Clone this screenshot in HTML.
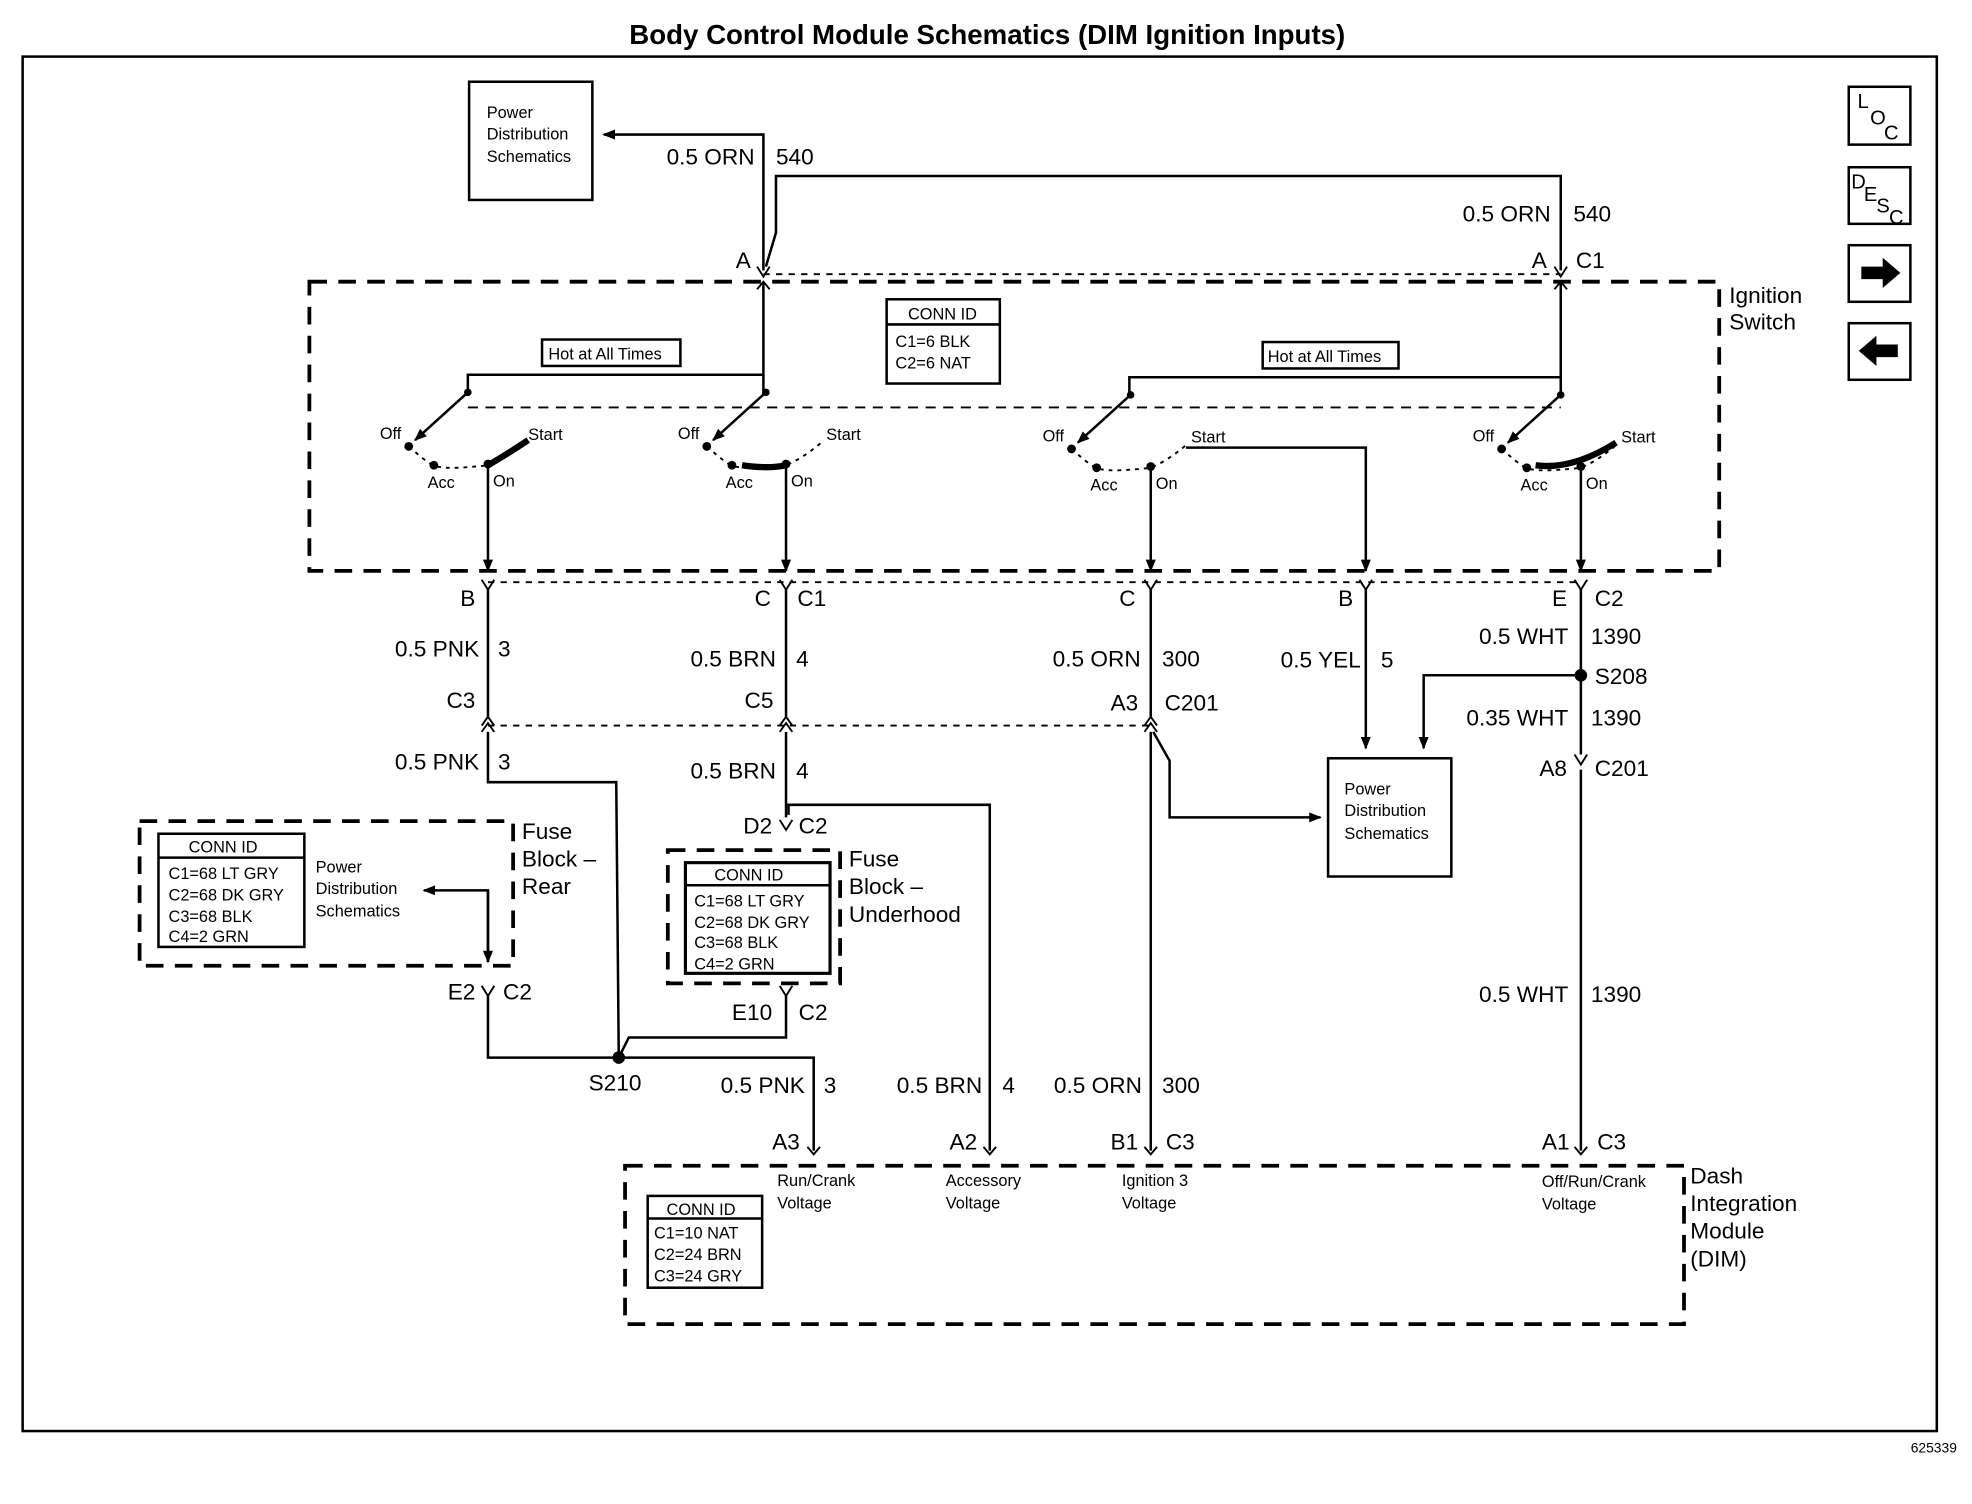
<!DOCTYPE html>
<html><head><meta charset="utf-8"><style>
html,body{margin:0;padding:0;background:#fff;}
svg{display:block;}
text{font-family:"Liberation Sans",sans-serif;fill:#000;}
.l{font-size:18px;}
.s{font-size:13px;}
.m{font-size:14px;}
</style></head><body>
<svg width="1972" height="1504" viewBox="0 0 1568 1196" preserveAspectRatio="none" xmlns="http://www.w3.org/2000/svg">
<defs>
<marker id="a" markerWidth="10" markerHeight="8" refX="9" refY="4" orient="auto" markerUnits="userSpaceOnUse"><path d="M0,0 L10,4 L0,8 Z" fill="#000"/></marker>
<g id="sw">
 <circle cx="0" cy="0" r="3"/>
 <line x1="0" y1="0" x2="-42" y2="38" stroke="#000" stroke-width="2" marker-end="url(#a)"/>
 <path d="M-47,43 Q-30,58 -27,58 Q-20,62 16,58 Q30,52 44,40" fill="none" stroke="#000" stroke-width="1.5" stroke-dasharray="3,4"/>
 <circle cx="-47" cy="43" r="3.5"/><circle cx="-27" cy="58" r="3.5"/><circle cx="16" cy="57" r="3.5"/>
 <text x="-70" y="37" class="s">Off</text><text x="48" y="38" class="s">Start</text>
 <text x="-32" y="76" class="s">Acc</text><text x="20" y="75" class="s">On</text>
</g>
</defs>
<g stroke="#000" fill="none" stroke-width="2">
<rect x="18" y="45" width="1522" height="1093"/>
<rect x="1470" y="69" width="49" height="46"/><rect x="1470" y="133" width="49" height="45"/>
<rect x="1470" y="195" width="49" height="45"/><rect x="1470" y="257" width="49" height="45"/>
<rect x="373" y="65" width="98" height="94"/>
<polyline points="607,215 607,107 480,107" marker-end="url(#a)"/>
<polyline points="1241,215 1241,140 617,140 617,185 609,212"/>
<rect x="246" y="224" width="1121" height="230" stroke-width="3" stroke-dasharray="14,9"/>
<line x1="607" y1="218" x2="1241" y2="218" stroke-width="1.5" stroke-dasharray="5,5"/>
<rect x="705" y="238" width="90" height="67"/><line x1="705" y1="258" x2="795" y2="258"/>
<rect x="431" y="270" width="110" height="21"/><rect x="1004" y="272" width="108" height="21"/>
<polyline points="607,225 607,298 372,298 372,312"/>
<polyline points="607,298 607,314"/>
<polyline points="1241,225 1241,314"/>
<polyline points="1241,300 898,300 898,314"/>
<line x1="372" y1="324" x2="1241" y2="324" stroke-width="1.5" stroke-dasharray="8,6"/>
<path d="M388,370 Q405,360 420,350" stroke-width="5"/>
<path d="M590,370 Q610,373 625,370" stroke-width="5"/>
<path d="M1221,370 Q1250,374 1285,352" stroke-width="5"/>
<line x1="388" y1="370" x2="388" y2="454" marker-end="url(#a)"/>
<line x1="625" y1="370" x2="625" y2="454" marker-end="url(#a)"/>
<line x1="915" y1="372" x2="915" y2="454" marker-end="url(#a)"/>
<polyline points="943,356 1086,356 1086,454" marker-end="url(#a)"/>
<line x1="1257" y1="372" x2="1257" y2="454" marker-end="url(#a)"/>
<line x1="388" y1="463" x2="1257" y2="463" stroke-width="1.5" stroke-dasharray="5,5"/>
<line x1="388" y1="468" x2="388" y2="570"/>
<line x1="625" y1="468" x2="625" y2="570"/>
<line x1="915" y1="468" x2="915" y2="570"/>
<line x1="1086" y1="468" x2="1086" y2="595" marker-end="url(#a)"/>
<line x1="1257" y1="468" x2="1257" y2="600"/>
<polyline points="1257,537 1132,537 1132,595" marker-end="url(#a)"/>
<line x1="388" y1="577" x2="915" y2="577" stroke-width="1.5" stroke-dasharray="5,5"/>
<rect x="1056" y="603" width="98" height="94"/>
<polyline points="388,582 388,622 490,622 492,841"/>
<polyline points="625,582 625,650"/>
<polyline points="627,648 627,640 787,640 787,915"/>
<line x1="915" y1="582" x2="915" y2="915"/>
<polyline points="917,582 930,605 930,650 1050,650" marker-end="url(#a)"/>
<line x1="1257" y1="612" x2="1257" y2="915"/>
<rect x="111" y="653" width="297" height="115" stroke-width="3" stroke-dasharray="14,9"/>
<rect x="126" y="663" width="116" height="90"/><line x1="126" y1="682" x2="242" y2="682"/>
<polyline points="388,765 388,708 337,708" marker-end="url(#a)"/>
<line x1="388" y1="708" x2="388" y2="765" marker-end="url(#a)"/>
<polyline points="388,792 388,841 647,841 647,915"/>
<rect x="531" y="676" width="137" height="106" stroke-width="3" stroke-dasharray="14,9"/>
<rect x="545" y="686" width="115" height="88" stroke-width="2.5"/><line x1="545" y1="704" x2="660" y2="704"/>
<polyline points="625,792 625,825 500,825 492,841"/>
<rect x="497" y="927" width="842" height="126" stroke-width="3" stroke-dasharray="14,9"/>
<rect x="515" y="951" width="91" height="73"/><line x1="515" y1="969" x2="606" y2="969"/>
<g stroke-width="1.5">
<path d="M602,212 L607,220 L612,212 M602,230 L607,224 L612,230"/>
<path d="M1236,212 L1241,220 L1246,212 M1236,230 L1241,224 L1246,230"/>
<path d="M383,461 L388,469 L393,461"/><path d="M620,461 L625,469 L630,461"/><path d="M910,461 L915,469 L920,461"/><path d="M1081,461 L1086,469 L1091,461"/><path d="M1252,461 L1257,469 L1262,461"/>
<path d="M383,577 L388,570 L393,577 M383,582 L388,575 L393,582"/><path d="M620,577 L625,570 L630,577 M620,582 L625,575 L630,582"/><path d="M910,577 L915,570 L920,577 M910,582 L915,575 L920,582"/>
<path d="M1252,600 L1257,608 L1262,600"/>
<path d="M620,652 L625,660 L630,652"/>
<path d="M383,784 L388,792 L393,784"/><path d="M620,784 L625,792 L630,784"/>
<path d="M642,912 L647,918 L652,912"/><path d="M782,912 L787,918 L792,912"/><path d="M910,912 L915,918 L920,912"/><path d="M1252,912 L1257,918 L1262,912"/>
</g>
</g>
<path d="M1480,212 L1497,212 L1497,205 L1511,217 L1497,229 L1497,222 L1480,222 Z"/>
<path d="M1509,274 L1492,274 L1492,267 L1478,279 L1492,291 L1492,284 L1509,284 Z"/>
<circle cx="1257" cy="537" r="5"/><circle cx="492" cy="841" r="5"/>
<use href="#sw" x="372" y="312"/><use href="#sw" x="609" y="312"/><use href="#sw" x="899" y="314"/><use href="#sw" x="1241" y="314"/>
<text x="785" y="35" text-anchor="middle" style="font-size:22px;font-weight:bold">Body Control Module Schematics (DIM Ignition Inputs)</text>
<text x="1556" y="1155" text-anchor="end" style="font-size:11px">625339</text>
<g style="font-size:16px"><text x="1477" y="86">L</text><text x="1487" y="99">O</text><text x="1498" y="111">C</text>
<text x="1472" y="150">D</text><text x="1482" y="160">E</text><text x="1492" y="169">S</text><text x="1502" y="178">C</text></g>
<g class="s"><text x="387" y="94">Power</text><text x="387" y="111">Distribution</text><text x="387" y="129">Schematics</text>
<text x="1069" y="632">Power</text><text x="1069" y="649">Distribution</text><text x="1069" y="667">Schematics</text>
<text x="251" y="694">Power</text><text x="251" y="711">Distribution</text><text x="251" y="729">Schematics</text>
<text x="436" y="286">Hot at All Times</text><text x="1008" y="288">Hot at All Times</text>
<text x="722" y="254">CONN ID</text><text x="712" y="276">C1=6 BLK</text><text x="712" y="293">C2=6 NAT</text>
<text x="150" y="678">CONN ID</text><text x="134" y="699">C1=68 LT GRY</text><text x="134" y="716">C2=68 DK GRY</text><text x="134" y="733">C3=68 BLK</text><text x="134" y="749">C4=2 GRN</text>
<text x="568" y="700">CONN ID</text><text x="552" y="721">C1=68 LT GRY</text><text x="552" y="738">C2=68 DK GRY</text><text x="552" y="754">C3=68 BLK</text><text x="552" y="771">C4=2 GRN</text>
<text x="530" y="966">CONN ID</text><text x="520" y="985">C1=10 NAT</text><text x="520" y="1002">C2=24 BRN</text><text x="520" y="1019">C3=24 GRY</text>
<text x="618" y="943">Run/Crank</text><text x="618" y="961">Voltage</text>
<text x="752" y="943">Accessory</text><text x="752" y="961">Voltage</text>
<text x="892" y="943">Ignition 3</text><text x="892" y="961">Voltage</text>
<text x="1226" y="944">Off/Run/Crank</text><text x="1226" y="962">Voltage</text></g>
<g class="l">
<text x="600" y="131" text-anchor="end">0.5 ORN</text><text x="617" y="131">540</text>
<text x="1233" y="176" text-anchor="end">0.5 ORN</text><text x="1251" y="176">540</text>
<text x="597" y="213" text-anchor="end">A</text><text x="1230" y="213" text-anchor="end">A</text><text x="1253" y="213">C1</text>
<text x="1375" y="241">Ignition</text><text x="1375" y="262">Switch</text>
<text x="378" y="482" text-anchor="end">B</text><text x="613" y="482" text-anchor="end">C</text><text x="634" y="482">C1</text>
<text x="903" y="482" text-anchor="end">C</text><text x="1076" y="482" text-anchor="end">B</text><text x="1246" y="482" text-anchor="end">E</text><text x="1268" y="482">C2</text>
<text x="381" y="522" text-anchor="end">0.5 PNK</text><text x="396" y="522">3</text>
<text x="617" y="530" text-anchor="end">0.5 BRN</text><text x="633" y="530">4</text>
<text x="907" y="530" text-anchor="end">0.5 ORN</text><text x="924" y="530">300</text>
<text x="1082" y="531" text-anchor="end">0.5 YEL</text><text x="1098" y="531">5</text>
<text x="1247" y="512" text-anchor="end">0.5 WHT</text><text x="1265" y="512">1390</text>
<text x="1268" y="544">S208</text>
<text x="1247" y="577" text-anchor="end">0.35 WHT</text><text x="1265" y="577">1390</text>
<text x="1246" y="617" text-anchor="end">A8</text><text x="1268" y="617">C201</text>
<text x="378" y="563" text-anchor="end">C3</text><text x="615" y="563" text-anchor="end">C5</text><text x="905" y="565" text-anchor="end">A3</text><text x="926" y="565">C201</text>
<text x="381" y="612" text-anchor="end">0.5 PNK</text><text x="396" y="612">3</text>
<text x="617" y="619" text-anchor="end">0.5 BRN</text><text x="633" y="619">4</text>
<text x="614" y="663" text-anchor="end">D2</text><text x="635" y="663">C2</text>
<text x="415" y="667">Fuse</text><text x="415" y="689">Block –</text><text x="415" y="711">Rear</text>
<text x="675" y="689">Fuse</text><text x="675" y="711">Block –</text><text x="675" y="733">Underhood</text>
<text x="378" y="795" text-anchor="end">E2</text><text x="400" y="795">C2</text>
<text x="614" y="811" text-anchor="end">E10</text><text x="635" y="811">C2</text>
<text x="1247" y="797" text-anchor="end">0.5 WHT</text><text x="1265" y="797">1390</text>
<text x="468" y="867">S210</text>
<text x="640" y="869" text-anchor="end">0.5 PNK</text><text x="655" y="869">3</text>
<text x="781" y="869" text-anchor="end">0.5 BRN</text><text x="797" y="869">4</text>
<text x="908" y="869" text-anchor="end">0.5 ORN</text><text x="924" y="869">300</text>
<text x="636" y="914" text-anchor="end">A3</text><text x="777" y="914" text-anchor="end">A2</text>
<text x="905" y="914" text-anchor="end">B1</text><text x="927" y="914">C3</text>
<text x="1248" y="914" text-anchor="end">A1</text><text x="1270" y="914">C3</text>
<text x="1344" y="941">Dash</text><text x="1344" y="963">Integration</text><text x="1344" y="985">Module</text><text x="1344" y="1007">(DIM)</text>
</g>
</svg>
</body></html>
